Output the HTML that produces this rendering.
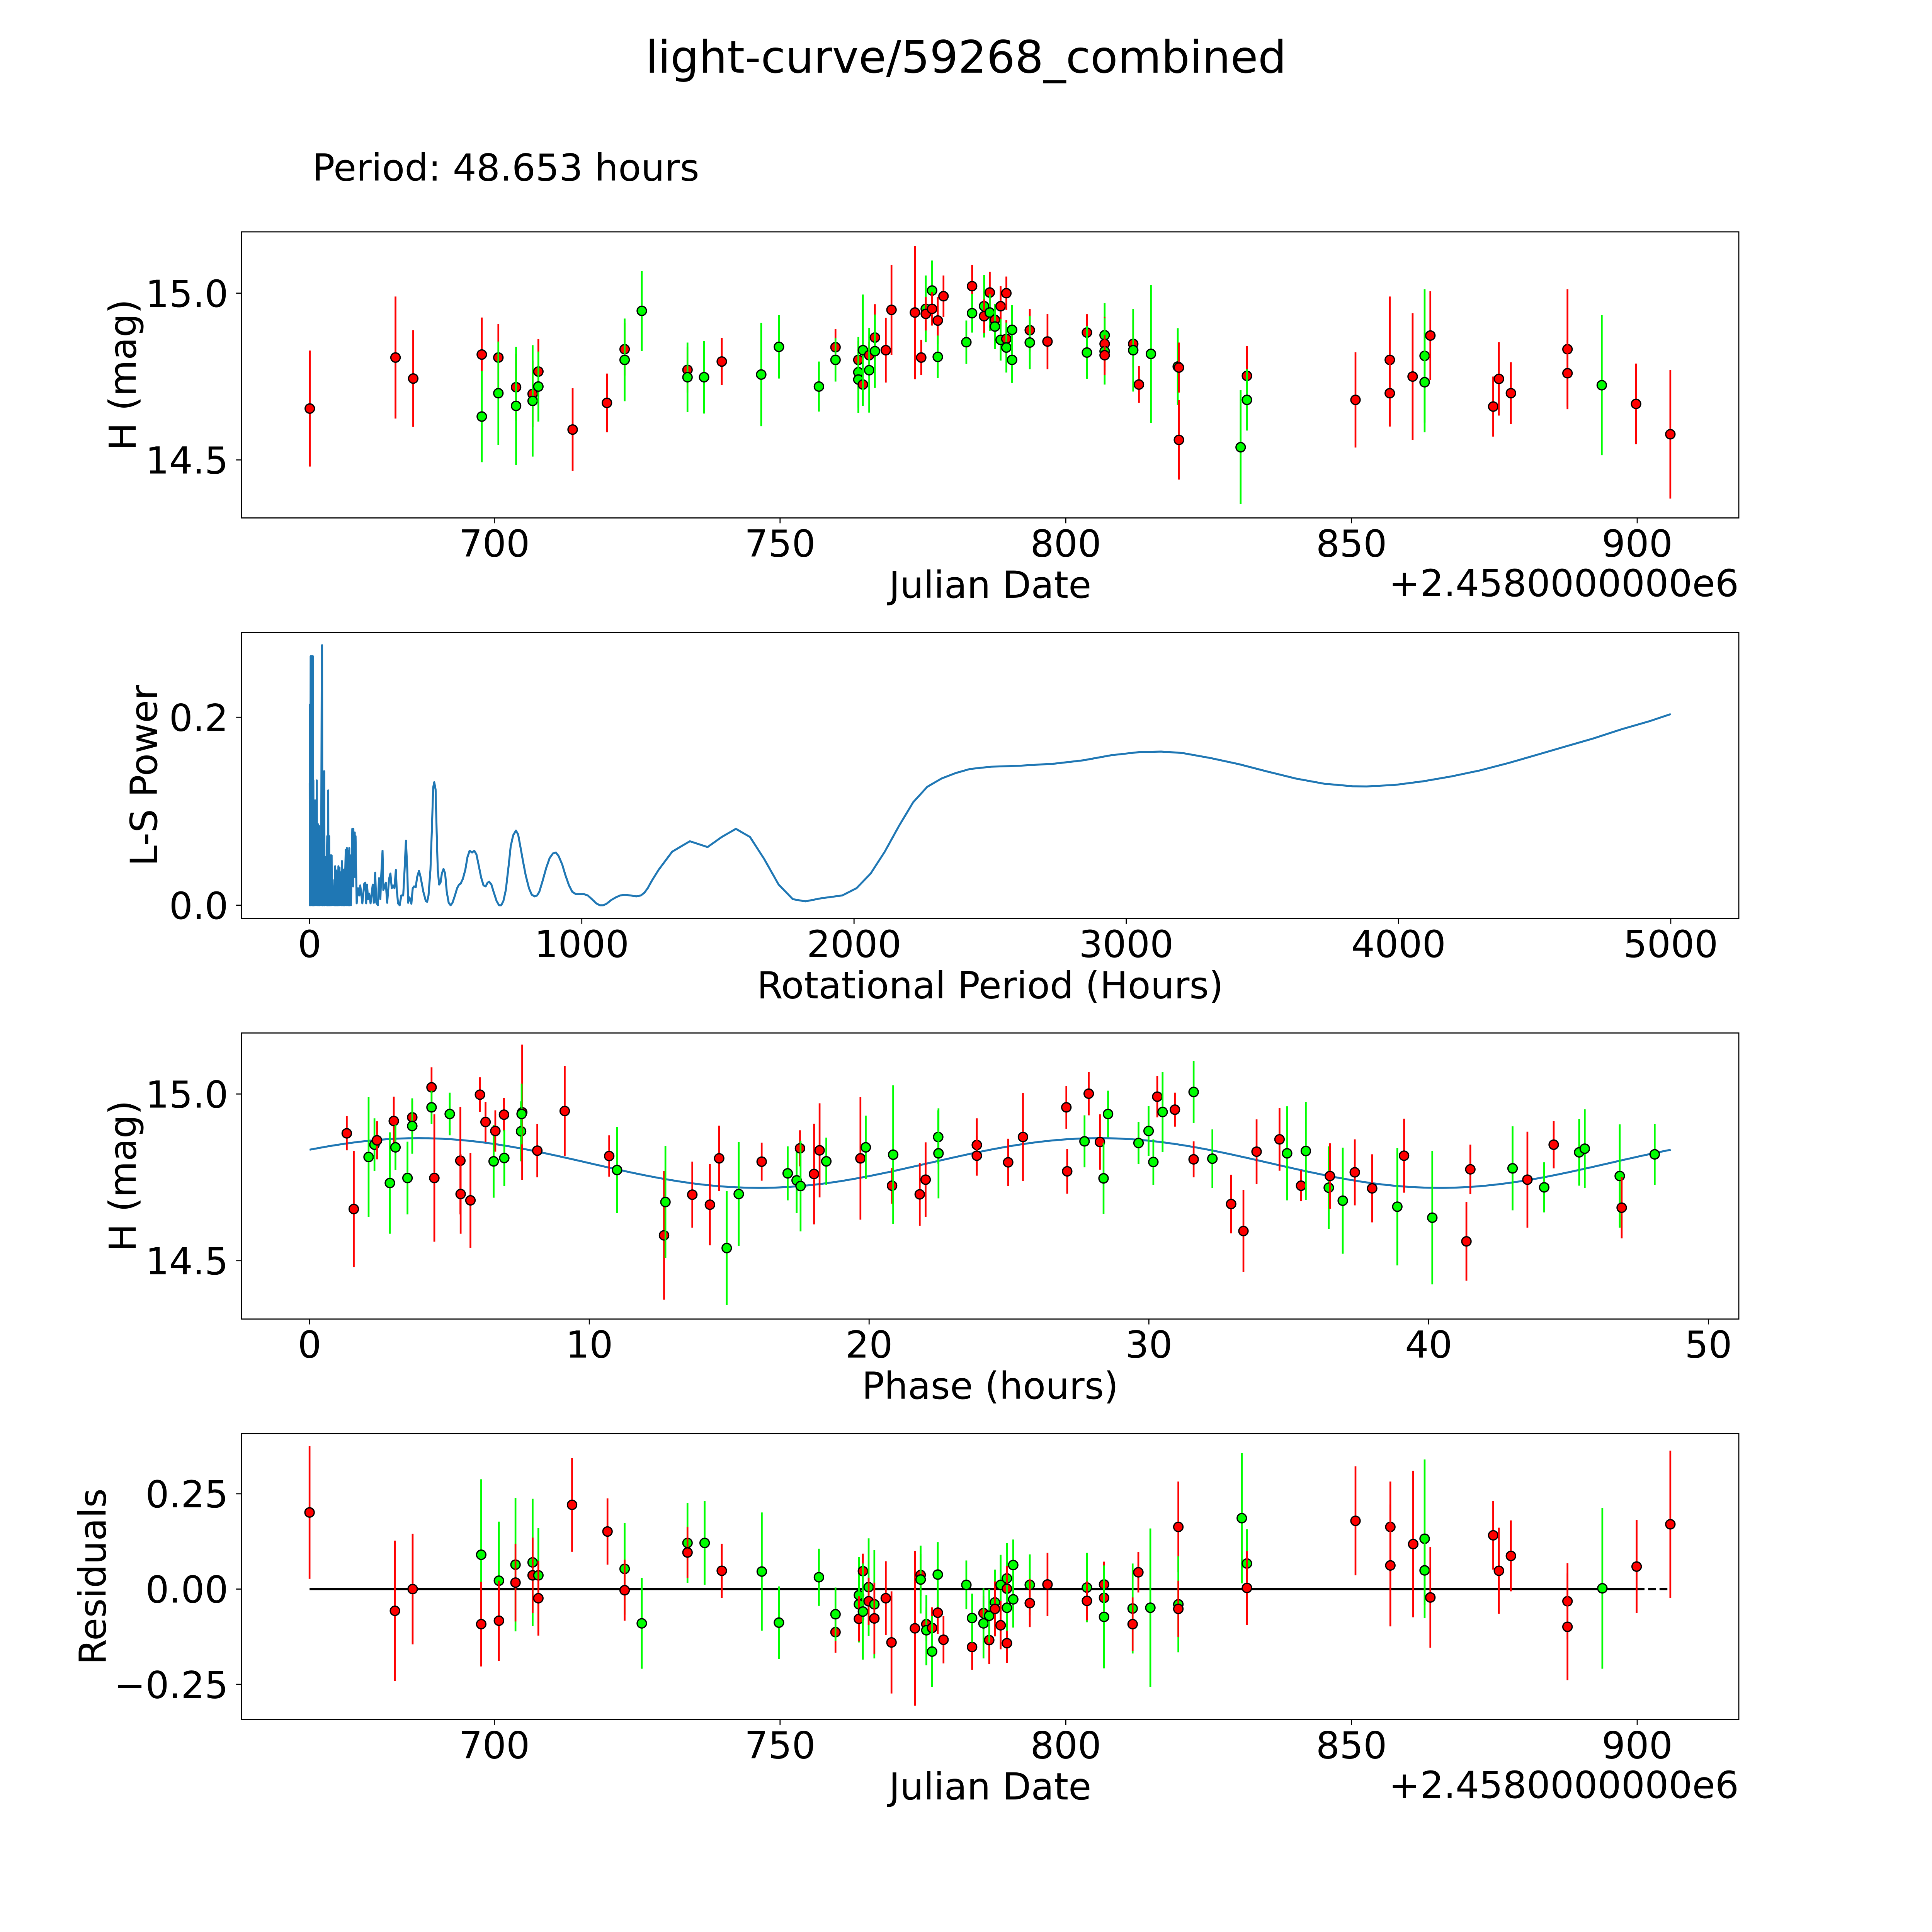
<!DOCTYPE html>
<html><head><meta charset="utf-8"><title>light-curve/59268_combined</title>
<style>html,body{margin:0;padding:0;background:#fff;overflow:hidden;width:100vw;height:100vh}svg{display:block;width:100vw;height:100vh}text{font-family:"DejaVu Sans","Liberation Sans",sans-serif;fill:#000}</style>
</head><body>
<svg id="fig" xmlns="http://www.w3.org/2000/svg" viewBox="0 0 5400 5400" preserveAspectRatio="none">
<rect x="0" y="0" width="5400" height="5400" fill="#fff"/>
<text x="2700" y="203" font-size="125" text-anchor="middle">light-curve/59268_combined</text>
<text x="873" y="505" font-size="104">Period: 48.653 hours</text>
</svg>
<script>
// ---------- Panel 1: light curve ----------
const lcDate=[667.7,682.7,685.8,697.8,697.8,700.7,700.7,703.8,703.8,706.7,706.7,707.7,707.7,713.7,719.7,722.8,722.8,725.8,733.8,733.8,736.7,739.8,746.7,749.8,756.8,759.7,759.7,763.7,763.7,763.7,764.5,764.5,765.6,765.6,766.6,766.6,768.5,769.5,773.6,774.7,775.5,775.5,776.6,776.6,777.6,777.6,778.6,782.6,783.6,783.6,785.7,785.7,786.7,786.7,787.6,787.6,788.6,788.6,789.6,789.6,789.6,790.6,790.6,793.7,793.7,796.8,803.7,803.7,806.8,806.8,806.8,806.8,811.8,811.8,812.8,814.9,819.6,819.8,819.8,830.6,831.7,831.7,850.7,856.7,856.7,860.7,862.8,862.8,863.8,874.8,875.8,877.9,887.8,887.8,893.8,899.8,905.8];
const lcMag=[14.654,14.807,14.744,14.816,14.630,14.807,14.700,14.718,14.662,14.698,14.677,14.765,14.720,14.591,14.671,14.832,14.800,14.947,14.770,14.748,14.748,14.795,14.756,14.839,14.720,14.838,14.800,14.800,14.763,14.741,14.726,14.829,14.814,14.769,14.867,14.826,14.829,14.950,14.942,14.807,14.953,14.938,15.008,14.953,14.918,14.809,14.991,14.853,15.021,14.940,14.961,14.931,15.002,14.942,14.920,14.900,14.961,14.860,15.000,14.863,14.837,14.890,14.800,14.889,14.852,14.855,14.882,14.822,14.874,14.848,14.826,14.814,14.848,14.829,14.726,14.818,14.780,14.777,14.560,14.538,14.752,14.680,14.680,14.800,14.700,14.750,14.812,14.733,14.873,14.660,14.743,14.700,14.832,14.760,14.724,14.668,14.577];
const lcErr=[0.174,0.183,0.145,0.111,0.137,0.100,0.155,0.100,0.177,0.100,0.167,0.098,0.105,0.124,0.088,0.079,0.124,0.120,0.068,0.104,0.109,0.071,0.155,0.095,0.075,0.054,0.065,0.056,0.106,0.100,0.045,0.167,0.040,0.127,0.100,0.110,0.097,0.135,0.200,0.053,0.100,0.050,0.090,0.050,0.070,0.064,0.062,0.065,0.064,0.058,0.094,0.050,0.062,0.055,0.045,0.068,0.060,0.062,0.050,0.056,0.075,0.075,0.069,0.064,0.080,0.083,0.055,0.079,0.096,0.080,0.100,0.060,0.071,0.124,0.055,0.207,0.115,0.075,0.119,0.171,0.089,0.092,0.143,0.190,0.100,0.190,0.200,0.150,0.133,0.090,0.110,0.093,0.180,0.100,0.210,0.121,0.193];
const lcBand=("rrrrgrgrgr"+"grgrrrggrg"+"grgggrgrgg"+"rgrgrgrrrr"+"grgrrgrgrg"+"grrgrgrgrr"+"gggrgrrggr"+"grrgrggrrg"+"rgrrrrggrr"+"rrrrgrr").split("");
const lcXTicks=[700,750,800,850,900];
const lcYTicks=[14.5,15.0];
const lcYTickLabels=["14.5","15.0"];

// ---------- Panel 2: Lomb-Scargle periodogram ----------
const lsPeriod=[0.5,1,1.5,2.5,4,5,6,8,9,10,12,13,14,15,17,18,19,21,22.5,23.5,26.7,28,31,32,35,36,41,42,45,46,47,49,50,54,55,60,61,65,66,68.6,69.5,72,73,77,78,81,82,85,86,90,91,94,95,98,99,102,103,106,107,110,111,115,116,119,120,123,124,127,128,133,134,137,138,141.5,142.5,146,147,151,152,157,159,160,161,162,166,167,169,
173,178,183,186,190,194,201,205,208,211,215,219,224,232,236,241,245,251,255,260,263,268,271,276,280,285,292,297,302,307,312,317,320,325,331,337,344,349,354,359,362,367,374,379,384,390,395,402,408,418,427,432,437,444,450,454,458,463,467,471,476,481,486,492,498,504,511,518,525,534,542,549,555,563,572,580,588,597,605,613,622,630,639,647,654,660,668,676,687,696,704,712,721,731,739,748,758,766,774,785,794,806,816,827,836,844,856,869,882,894,905,915,928,940,953,965,978,991,1007,1022,1037,1053,1066,1079,1091,1108,1125,1141,1158,1179,1200,1217,1230,1242,1259,1282,
1332,1397,1462,1514,1566,1618,1670,1723,1775,1821,1879,1957,2009,2061,2113,2165,2217,2269,2321,2373,2425,2503,2608,2738,2842,2946,3050,3128,3206,3310,3415,3519,3623,3727,3831,3883,3987,4091,4195,4300,4404,4508,4612,4716,4820,4924,5000];
const lsPower=[0.13,0,0.2135,0,0.265,0.265,0,0.265,0.26,0,0.265,0,0.1328,0,0.09,0.1115,0,0.1,0.1115,0,0.1328,0,0.0862,0,0.0842,0,0.0706,0,0.27,0.2767,0,0.1426,0,0.1426,0,0.0512,0,0.0735,0,0.1222,0,0.0735,0,0.0531,0,0.0531,0,0.0269,0,0.02,0,0.0415,0,0.037,0,0.035,0,0.0415,0,0.040,0,0.035,0,0.047,0,0.038,0,0.038,0,0.059,0,0.0609,0,0.058,0,0.0609,0,0.053,0,0.0813,0.08,0.02,0.0813,0.03,0.0774,0.03,0.0735,
0.002,0.0181,0.0104,0.0211,0.0123,0.002,0.0230,0.0240,0.002,0.0220,0.0065,0.0123,0.002,0.0220,0.0026,0.0347,0.0026,0.0,0.0288,0.0065,0.0298,0.0580,0.0162,0.0201,0.0240,0.0026,0.0279,0.0337,0.0181,0.0211,0.0181,0.0376,0.0181,0.002,0.0,0.0104,0.0104,0.0376,0.0687,0.0376,0.0026,0.0084,0.0016,0.0181,0.0201,0.0191,0.0298,0.0366,0.0298,0.0143,0.0045,0.0036,0.0104,0.0376,0.0862,0.1251,0.1309,0.1231,0.0765,0.0376,0.0220,0.0240,0.0337,0.0386,0.0337,0.0143,0.0026,0.0,0.0026,0.0104,0.0181,0.0220,0.0230,0.0279,0.0376,0.0512,0.0580,0.0561,0.0580,0.0541,0.0415,0.0298,0.0211,0.0201,0.0240,0.0250,0.0220,0.0143,0.0045,0.0,0.0,0.0045,0.0162,0.0415,0.0629,0.0745,0.0794,0.0755,0.0629,0.0454,0.0318,0.0181,0.0113,0.0094,0.0104,0.0143,0.0259,0.0395,0.0502,0.0551,0.0561,0.0522,0.0434,0.0318,0.0211,0.0143,0.0119,0.0119,0.0119,0.0104,0.0065,0.0020,0.0,0.0,0.0016,0.0055,0.0084,0.0104,0.0111,0.0104,0.0094,0.0104,0.0133,0.0181,0.0269,0.0376,
0.0570,0.0681,0.0619,0.0726,0.0813,0.0726,0.0492,0.0220,0.0065,0.0041,0.0074,0.0104,0.0181,0.0337,0.0570,0.0843,0.1095,0.1260,0.1348,0.1406,0.1449,0.1474,0.1484,0.1507,0.1542,0.1597,0.1630,0.1635,0.1620,0.1566,0.1500,0.1422,0.1348,0.1293,0.1266,0.1264,0.1280,0.1319,0.1371,0.1435,0.1513,0.1600,0.1688,0.1775,0.1873,0.1960,0.2034];
const lsXTicks=[0,1000,2000,3000,4000,5000];
const lsYTicks=[0.0,0.2];
const lsYTickLabels=["0.0","0.2"];

// ---------- Panel 3: phased light curve ----------
const phHours=[1.33,1.58,2.11,2.32,2.41,2.87,3.01,3.07,3.50,3.67,3.67,4.36,4.36,4.46,5.01,5.39,5.40,5.75,6.09,6.29,6.58,6.64,6.95,6.96,7.56,7.60,7.58,8.14,9.12,10.71,10.99,12.67,12.72,13.68,14.31,14.64,14.91,15.34,16.16,17.09,17.41,17.53,17.55,18.03,18.23,18.47,19.69,19.88,20.82,20.86,21.81,22.02,22.47,22.48,23.85,23.85,24.97,25.50,27.05,27.08,27.70,27.85,28.25,28.38,28.54,29.63,29.99,30.16,30.30,30.49,30.93,31.60,31.60,32.27,32.94,33.38,33.85,34.67,34.94,35.44,35.61,36.43,36.47,36.93,37.36,37.98,38.88,39.12,40.13,41.35,41.49,43.00,43.53,44.13,44.47,45.38,45.58,46.83,46.90,48.08];
const phMag=[14.882,14.655,14.811,14.848,14.861,14.733,14.919,14.840,14.748,14.930,14.904,15.020,14.960,14.748,14.940,14.800,14.700,14.681,14.998,14.916,14.798,14.889,14.938,14.808,14.888,14.945,14.940,14.830,14.949,14.814,14.772,14.576,14.676,14.698,14.668,14.807,14.538,14.700,14.797,14.762,14.741,14.837,14.724,14.760,14.831,14.798,14.807,14.840,14.725,14.818,14.699,14.743,14.871,14.822,14.847,14.815,14.795,14.871,14.960,14.768,14.858,15.001,14.856,14.747,14.940,14.853,14.889,14.796,14.992,14.946,14.953,15.006,14.804,14.806,14.670,14.589,14.827,14.864,14.822,14.725,14.829,14.719,14.754,14.680,14.765,14.717,14.662,14.815,14.629,14.558,14.774,14.777,14.743,14.720,14.848,14.825,14.836,14.754,14.659,14.819];
const phErr=[0.051,0.174,0.180,0.079,0.057,0.152,0.073,0.068,0.109,0.050,0.083,0.060,0.050,0.191,0.064,0.161,0.119,0.142,0.052,0.060,0.109,0.062,0.050,0.084,0.090,0.203,0.091,0.080,0.135,0.062,0.129,0.193,0.168,0.099,0.122,0.098,0.171,0.156,0.057,0.081,0.098,0.054,0.136,0.151,0.141,0.071,0.184,0.095,0.054,0.208,0.094,0.112,0.080,0.135,0.080,0.060,0.071,0.132,0.064,0.067,0.078,0.065,0.083,0.107,0.070,0.063,0.075,0.068,0.062,0.120,0.051,0.093,0.054,0.088,0.088,0.123,0.097,0.094,0.141,0.046,0.147,0.124,0.098,0.159,0.099,0.102,0.176,0.111,0.200,0.118,0.074,0.126,0.144,0.075,0.071,0.100,0.118,0.155,0.092,0.091];
const phBand=("rrggrgrggr"+"grgrgrrrrr"+"grrggrgrrr"+"grgrrrggrg"+"grgrrgrgrg"+"rrggrr"+"rrrrgrrggg"+"ggrgrgrgrr"+"rrgrggrgrr"+"grgrrgrgrg"+"ggrg").split("");
const fitMean=14.793;
const fitAmp=0.0745;
const fitPeakPhase=3.9;
const fitHarmonicPeriod=24.33;
const fitPeriodHours=48.653;
const phXTicks=[0,10,20,30,40,50];
const phYTicks=[14.5,15.0];
const phYTickLabels=["14.5","15.0"];

// ---------- Panel 4: residuals ----------
const resDate=[667.66,682.6,685.7,697.7,697.7,700.8,700.8,703.7,703.7,706.7,706.7,707.7,707.7,713.6,719.8,722.8,722.8,725.8,733.8,733.8,736.8,739.8,746.8,749.8,756.8,759.7,759.7,763.8,763.8,763.8,764.5,764.5,765.5,765.5,766.5,766.5,768.5,769.5,773.6,774.6,774.6,775.6,775.6,776.6,776.6,777.6,777.6,778.6,782.6,783.6,783.6,785.6,785.6,786.6,786.6,787.6,787.6,788.6,788.6,789.7,789.7,789.7,789.7,790.8,790.8,793.7,793.7,796.8,803.7,803.7,806.7,806.7,806.7,811.7,811.7,812.7,814.8,819.7,819.7,819.7,830.8,831.7,831.7,850.7,856.8,856.8,860.8,862.8,862.8,863.8,874.8,875.8,877.9,887.8,887.8,893.9,899.9,905.8];
const resVal=[0.201,-0.057,0.000,0.090,-0.092,0.022,-0.083,0.064,0.017,0.070,0.036,0.036,-0.024,0.221,0.151,0.053,-0.003,-0.090,0.121,0.096,0.121,0.048,0.046,-0.088,0.031,-0.113,-0.066,-0.016,-0.040,-0.078,0.047,-0.059,0.005,-0.032,-0.040,-0.077,-0.024,-0.140,-0.103,0.037,0.025,-0.092,-0.108,-0.102,-0.164,-0.062,0.038,-0.133,0.011,-0.152,-0.076,-0.063,-0.090,-0.134,-0.070,-0.035,-0.052,0.011,-0.095,0.028,0.001,-0.142,-0.049,0.063,-0.027,0.011,-0.037,0.012,0.004,-0.031,0.012,-0.023,-0.073,-0.051,-0.092,0.044,-0.049,0.163,-0.040,-0.052,0.186,0.067,0.003,0.179,0.163,0.062,0.118,0.132,0.049,-0.022,0.141,0.048,0.087,-0.032,-0.099,0.002,0.059,0.170];
const resErr=[0.174,0.184,0.145,0.198,0.111,0.155,0.105,0.175,0.102,0.167,0.099,0.124,0.098,0.123,0.087,0.120,0.080,0.119,0.105,0.067,0.110,0.071,0.155,0.095,0.075,0.054,0.070,0.100,0.100,0.059,0.046,0.126,0.128,0.062,0.142,0.094,0.097,0.134,0.203,0.055,0.089,0.044,0.092,0.054,0.093,0.056,0.085,0.062,0.064,0.060,0.064,0.045,0.092,0.063,0.070,0.086,0.072,0.079,0.063,0.093,0.060,0.052,0.060,0.067,0.074,0.080,0.063,0.083,0.091,0.051,0.060,0.058,0.135,0.118,0.070,0.053,0.208,0.119,0.126,0.074,0.171,0.090,0.097,0.143,0.119,0.160,0.192,0.208,0.090,0.132,0.090,0.113,0.093,0.100,0.140,0.211,0.122,0.193];
const resBand=("rrrgrgrgrg"+"rgrrrgrggr"+"grgggrgggr"+"rggrgrrrrr"+"grgrgrgrgr"+"grgrggrgrg"+"rrggggrrgr"+"rrggrrgrgr"+"ggrrrrrggr"+"rrrrrgrr").split("");
const resXTicks=[700,750,800,850,900];
const resYTicks=[-0.25,0.0,0.25];
const resYTickLabels=["\u22120.25","0.00","0.25"];

// ---------- layout ----------
const NS="http://www.w3.org/2000/svg";
const svg=document.getElementById("fig");
const AX_L=675, AX_W=4185, AX_H=799.6;
const TOPS=[648,1767.6,2887.2,4006.8];
const COL={r:"#ff0000",g:"#00ff00"};
const FS=104;

function mk(tag,attrs,parent){const e=document.createElementNS(NS,tag);for(const k in attrs)e.setAttribute(k,attrs[k]);(parent||svg).appendChild(e);return e;}
function makeAxis(i,xlo,xhi,ylo,yhi){
  const top=TOPS[i];
  return {top:top,bottom:top+AX_H,
    x:v=>AX_L+(v-xlo)/(xhi-xlo)*AX_W,
    y:v=>top+(yhi-v)/(yhi-ylo)*AX_H};
}
function frame(ax,name){
  const g=mk("g",{});
  
  
  const r=mk("rect",{x:AX_L,y:ax.top,width:AX_W,height:AX_H,fill:"none",stroke:"#000","stroke-width":3},g);
  
  
  return g;
}
function xTicks(ax,ticks,labels,name){
  const g=mk("g",{});
  
  
  ticks.forEach((t,k)=>{
    const x=ax.x(t);
    mk("line",{x1:x,x2:x,y1:ax.bottom,y2:ax.bottom+15,stroke:"#000","stroke-width":3},g);
    const tx=mk("text",{x:x,y:ax.bottom+108,"font-size":FS,"text-anchor":"middle"},g);
    tx.textContent=labels[k];
    
    
  });
}
function yTicks(ax,ticks,labels,name){
  const g=mk("g",{});
  
  
  ticks.forEach((t,k)=>{
    const y=ax.y(t);
    mk("line",{x1:AX_L-15,x2:AX_L,y1:y,y2:y,stroke:"#000","stroke-width":3},g);
    const tx=mk("text",{x:638,y:y+38,"font-size":FS,"text-anchor":"end"},g);
    tx.textContent=labels[k];
    
    
  });
}
function label(txt,x,y,rot,name,anchor){
  const t=mk("text",{x:x,y:y,"font-size":FS,"text-anchor":anchor||"middle"});
  if(rot){t.setAttribute("transform","rotate(-90 "+x+" "+y+")");t.setAttribute("dominant-baseline","central");}
  t.textContent=txt;
  
  
}
function errPoints(ax,xs,ys,es,bands,name){
  const g=mk("g",{});
  
  
  const n=Math.min(xs.length,ys.length,es.length,bands.length);
  for(let k=0;k<n;k++){
    const c=COL[bands[k]]||"#ff0000";
    const x=ax.x(xs[k]);
    const l=mk("line",{x1:x,x2:x,y1:ax.y(ys[k]-es[k]),y2:ax.y(ys[k]+es[k]),stroke:c,"stroke-width":5},g);
    
    
    const p=mk("circle",{cx:x,cy:ax.y(ys[k]),r:13,fill:c,stroke:"#000","stroke-width":3.5},g);
    
    
  }
}

// Panel 1
const ax1=makeAxis(0,655.75,917.78,14.326,15.184);
frame(ax1,"light-curve-panel");
errPoints(ax1,lcDate,lcMag,lcErr,lcBand,"light-curve-points");
xTicks(ax1,lcXTicks,lcXTicks.map(String),"light-curve-x-ticks");
yTicks(ax1,lcYTicks,lcYTickLabels,"light-curve-y-ticks");
label("Julian Date",AX_L+AX_W/2,ax1.bottom+223,false,"light-curve-x-axis-title");
label("+2.4580000000e6",4860,ax1.bottom+219,false,"light-curve-x-offset","end");
label("H (mag)",344,ax1.top+AX_H/2,true,"light-curve-y-axis-title");

// Panel 2
const ax2=makeAxis(1,-250,5250,-0.0141,0.2903);
frame(ax2,"periodogram-panel");
(function(){
  let d="";
  const n=Math.min(lsPeriod.length,lsPower.length);
  for(let k=0;k<n;k++)d+=(k?"L":"M")+ax2.x(lsPeriod[k]).toFixed(1)+" "+ax2.y(lsPower[k]).toFixed(1);
  const p=mk("path",{d:d,fill:"none",stroke:"#1f77b4","stroke-width":5.5,"stroke-linejoin":"round"});
  
  
})();
xTicks(ax2,lsXTicks,lsXTicks.map(String),"periodogram-x-ticks");
yTicks(ax2,lsYTicks,lsYTickLabels,"periodogram-y-ticks");
label("Rotational Period (Hours)",AX_L+AX_W/2,ax2.bottom+223,false,"periodogram-x-axis-title");
label("L-S Power",403,ax2.top+AX_H/2,true,"periodogram-y-axis-title");

// Panel 3
const ax3=makeAxis(2,-2.433,51.086,14.325,15.183);
frame(ax3,"phase-panel");
(function(){
  let d="";
  for(let k=0;k<=400;k++){
    const ph=fitPeriodHours*k/400;
    const m=fitMean+fitAmp*Math.cos(2*Math.PI*(ph-fitPeakPhase)/fitHarmonicPeriod);
    d+=(k?"L":"M")+ax3.x(ph).toFixed(1)+" "+ax3.y(m).toFixed(1);
  }
  const p=mk("path",{d:d,fill:"none",stroke:"#1f77b4","stroke-width":5.5});
  
  
})();
errPoints(ax3,phHours,phMag,phErr,phBand,"phase-points");
xTicks(ax3,phXTicks,phXTicks.map(String),"phase-x-ticks");
yTicks(ax3,phYTicks,phYTickLabels,"phase-y-ticks");
label("Phase (hours)",AX_L+AX_W/2,ax3.bottom+223,false,"phase-x-axis-title");
label("H (mag)",344,ax3.top+AX_H/2,true,"phase-y-axis-title");

// Panel 4
const ax4=makeAxis(3,655.75,917.78,-0.3425,0.408);
frame(ax4,"residuals-panel");
(function(){
  const sorted=resDate.slice().sort((a,b)=>a-b);
  const x0=ax4.x(sorted[0]), xl=ax4.x(sorted[sorted.length-2]), xe=ax4.x(sorted[sorted.length-1]), y0=ax4.y(0);
  const a=mk("line",{x1:x0,x2:xl,y1:y0,y2:y0,stroke:"#000","stroke-width":6});
  
  
  const b=mk("line",{x1:xl,x2:xe,y1:y0,y2:y0,stroke:"#000","stroke-width":6,"stroke-dasharray":"22 10"});
  
  
})();
errPoints(ax4,resDate,resVal,resErr,resBand,"residual-points");
xTicks(ax4,resXTicks,resXTicks.map(String),"residuals-x-ticks");
yTicks(ax4,resYTicks,resYTickLabels,"residuals-y-ticks");
label("Julian Date",AX_L+AX_W/2,ax4.bottom+223,false,"residuals-x-axis-title");
label("+2.4580000000e6",4860,ax4.bottom+219,false,"residuals-x-offset","end");
label("Residuals",260,ax4.top+AX_H/2,true,"residuals-y-axis-title");
</script>
</body></html>
